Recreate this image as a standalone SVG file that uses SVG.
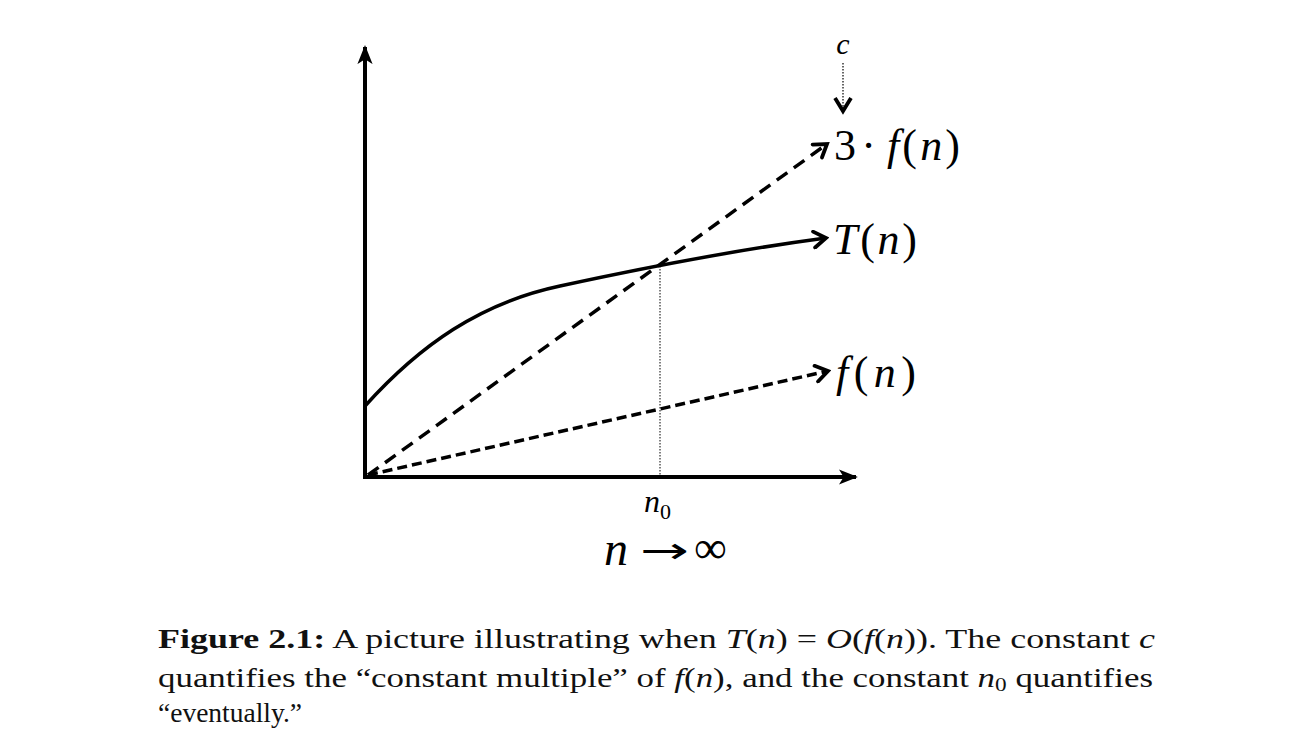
<svg xmlns="http://www.w3.org/2000/svg" width="1316" height="756" viewBox="0 0 1316 756">
<style>
.ax{stroke:#000;stroke-width:4;fill:none}
.cur{stroke:#000;stroke-width:3.5;fill:none}
.lbl{font-family:"Liberation Serif","Times New Roman",serif;fill:#000}
.it{font-style:italic}
.cap{font-family:"Liberation Serif","Times New Roman",serif;font-size:27px;fill:#111}
</style>
<defs>
<marker id="tri" markerUnits="userSpaceOnUse" viewBox="0 0 20 20" refX="18" refY="10" markerWidth="19" markerHeight="19" orient="auto">
<path d="M0,2 L20,10 L0,18 L5,10 Z" fill="#000"/>
</marker>
<marker id="chev" markerUnits="userSpaceOnUse" viewBox="0 0 20 20" refX="17" refY="10" markerWidth="20" markerHeight="20" orient="auto">
<path d="M5,2 L17,10 L5,18" fill="none" stroke="#000" stroke-width="3.8" stroke-linecap="round" stroke-linejoin="miter"/>
</marker>
</defs>
<g id="axes">
<line class="ax" x1="365" y1="479" x2="365" y2="47" marker-end="url(#tri)"/>
<line class="ax" x1="363" y1="477" x2="856" y2="477" marker-end="url(#tri)"/>
</g>
<g id="connectors">
<path id="Tcurve" class="cur" d="M365,406 C420,345 480,303 560,286 C620,273 720,252 826,238" marker-end="url(#chev)"/>
<line id="c3f" x1="368" y1="475" x2="827" y2="144" stroke="#000" stroke-width="3.5" stroke-dasharray="13,8" marker-end="url(#chev)"/>
<line id="cf" x1="368" y1="475" x2="828" y2="371" stroke="#000" stroke-width="3.5" stroke-dasharray="10,5" marker-end="url(#chev)"/>
<line id="n0line" x1="660" y1="263" x2="660" y2="477" stroke="#000" stroke-width="1" stroke-dasharray="1.5,1.5"/>
<line id="carrow" x1="843" y1="63" x2="843" y2="112" stroke="#000" stroke-width="1.2" stroke-dasharray="1.5,1.5"/>
<path d="M835,98 L843,111 L851,98" fill="none" stroke="#000" stroke-width="3.8"/>
</g>
<g id="label-c"><text class="lbl it" x="843" y="54" font-size="30" text-anchor="middle">c</text></g>
<g id="label-3f"><text class="lbl" x="834" y="160" font-size="44" textLength="126" lengthAdjust="spacing">3<tspan dx="2">·</tspan><tspan class="it" dx="8">f</tspan>(<tspan class="it">n</tspan>)</text></g>
<g id="label-T"><text class="lbl" x="833" y="254" font-size="44" textLength="84" lengthAdjust="spacing"><tspan class="it">T</tspan>(<tspan class="it">n</tspan>)</text></g>
<g id="label-f"><text class="lbl" x="836" y="387" font-size="44" textLength="80" lengthAdjust="spacing"><tspan class="it">f</tspan>(<tspan class="it">n</tspan>)</text></g>
<g id="label-n0"><text class="lbl" x="644" y="512" font-size="32"><tspan class="it">n</tspan><tspan font-size="22" dy="7">0</tspan></text></g>
<g id="label-ninf">
<text class="lbl it" x="604" y="565" font-size="48">n</text>
<text x="640" y="563" font-family="DejaVu Sans, sans-serif" font-size="36" textLength="49" lengthAdjust="spacingAndGlyphs">→</text>
<text class="lbl" x="694" y="563" font-size="46">∞</text>
</g>
<g id="caption">
<text class="cap" x="158" y="648" textLength="997" lengthAdjust="spacingAndGlyphs"><tspan font-weight="bold">Figure 2.1:</tspan> A picture illustrating when <tspan class="it">T</tspan>(<tspan class="it">n</tspan>) = <tspan class="it">O</tspan>(<tspan class="it">f</tspan>(<tspan class="it">n</tspan>)). The constant <tspan class="it">c</tspan></text>
<text class="cap" x="158" y="687" textLength="995" lengthAdjust="spacingAndGlyphs">quantifies the “constant multiple” of <tspan class="it">f</tspan>(<tspan class="it">n</tspan>), and the constant <tspan class="it">n</tspan><tspan font-size="18" dy="4">0</tspan><tspan dy="-4"> quantifies</tspan></text>
<text class="cap" x="158" y="722" textLength="144" lengthAdjust="spacingAndGlyphs">“eventually.”</text>
</g>
</svg>
